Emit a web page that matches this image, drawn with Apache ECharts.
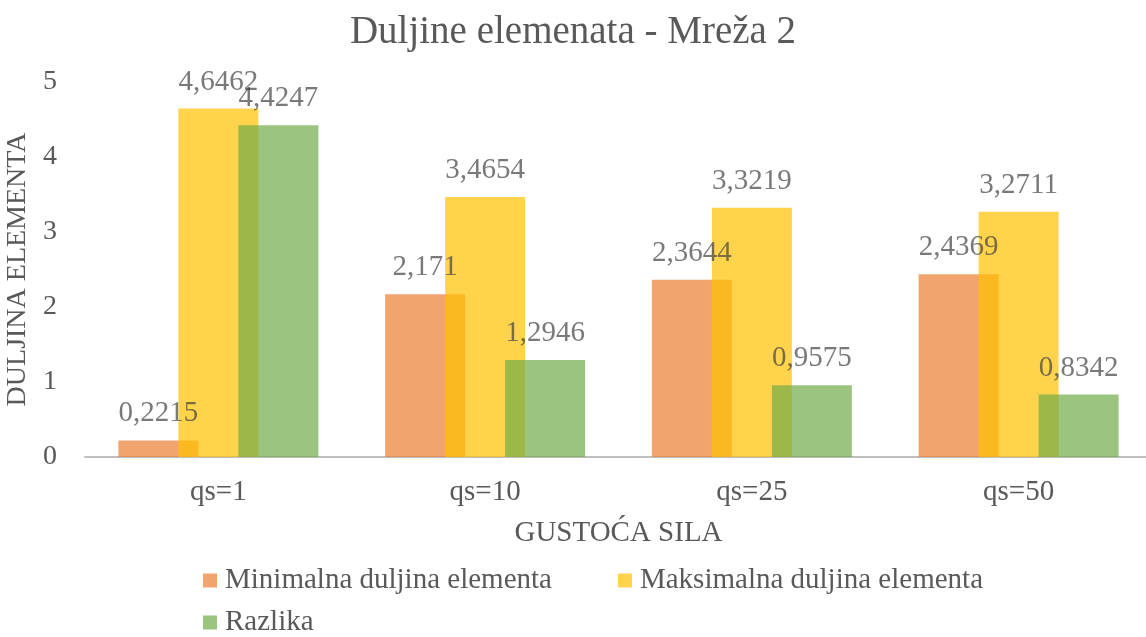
<!DOCTYPE html>
<html>
<head>
<meta charset="utf-8">
<script src="https://cdn.jsdelivr.net/npm/echarts@6/dist/echarts.min.js"></script>
<style>
  html, body { margin: 0; padding: 0; background: #fff; }
  #chart { width: 1146px; height: 637px; }
</style>
</head>
<body>
<div id="chart"></div>
<script>
const categories = ['qs=1', 'qs=10', 'qs=25', 'qs=50'];
const minLength = [0.2215, 2.171, 2.3644, 2.4369];
const maxLength = [4.6462, 3.4654, 3.3219, 3.2711];
const difference = [4.4247, 1.2946, 0.9575, 0.8342];
const seriesNames = ['Minimalna duljina elementa', 'Maksimalna duljina elementa', 'Razlika'];
const colors = ['#ED7D31', '#FFC000', '#70AD47'];

const FONT = "'Liberation Serif', 'Times New Roman', serif";
const TEXT = '#595959';
const chart = echarts.init(document.getElementById('chart'), null, { renderer: 'canvas' });

function barSeries(name, data, color) {
  return {
    name: name,
    type: 'bar',
    data: data,
    barWidth: 80,
    barGap: '-25%',
    itemStyle: { color: color, opacity: 0.7 },
    label: {
      show: true,
      position: 'top',
      distance: 12,
      fontFamily: FONT,
      fontSize: 29,
      color: '#404040',
      formatter: p => String(p.value).replace('.', ',')
    }
  };
}

const legendBase = {
  left: 198,
  itemWidth: 14,
  itemHeight: 14,
  itemGap: 66,
  icon: 'rect',
  textStyle: { fontFamily: FONT, fontSize: 29, color: TEXT, padding: [0, 0, 0, 3] }
};

chart.setOption({
  animation: false,
  color: colors,
  title: {
    text: 'Duljine elemenata - Mreža 2',
    left: 'center',
    top: 8,
    textStyle: { fontFamily: FONT, fontSize: 39, fontWeight: 'normal', color: TEXT }
  },
  legend: [
    Object.assign({}, legendBase, { top: 561, data: seriesNames.slice(0, 2) }),
    Object.assign({}, legendBase, { top: 603, data: seriesNames.slice(2) })
  ],
  grid: { left: 85, right: -6, top: 82, bottom: 180, containLabel: false, outerBoundsMode: 'none' },
  xAxis: {
    type: 'category',
    data: categories,
    name: 'GUSTOĆA SILA',
    nameLocation: 'middle',
    nameGap: 62,
    nameTextStyle: { fontFamily: FONT, fontSize: 29, color: TEXT, verticalAlign: 'top' },
    axisLine: { lineStyle: { color: '#BFBFBF', width: 2 } },
    axisTick: { show: false },
    axisLabel: { fontFamily: FONT, fontSize: 29, color: TEXT, margin: 21 }
  },
  yAxis: {
    type: 'value',
    min: 0,
    max: 5,
    interval: 1,
    name: 'DULJINA ELEMENTA',
    nameLocation: 'middle',
    nameGap: 52,
    nameTextStyle: { fontFamily: FONT, fontSize: 28, color: TEXT, padding: [8, 0, 0, 0] },
    axisLine: { show: false },
    axisTick: { show: false },
    splitLine: { show: false },
    axisLabel: { fontFamily: FONT, fontSize: 28, color: TEXT, margin: 28 }
  },
  series: [
    barSeries(seriesNames[0], minLength, colors[0]),
    barSeries(seriesNames[1], maxLength, colors[1]),
    barSeries(seriesNames[2], difference, colors[2])
  ]
});
</script>
</body>
</html>
